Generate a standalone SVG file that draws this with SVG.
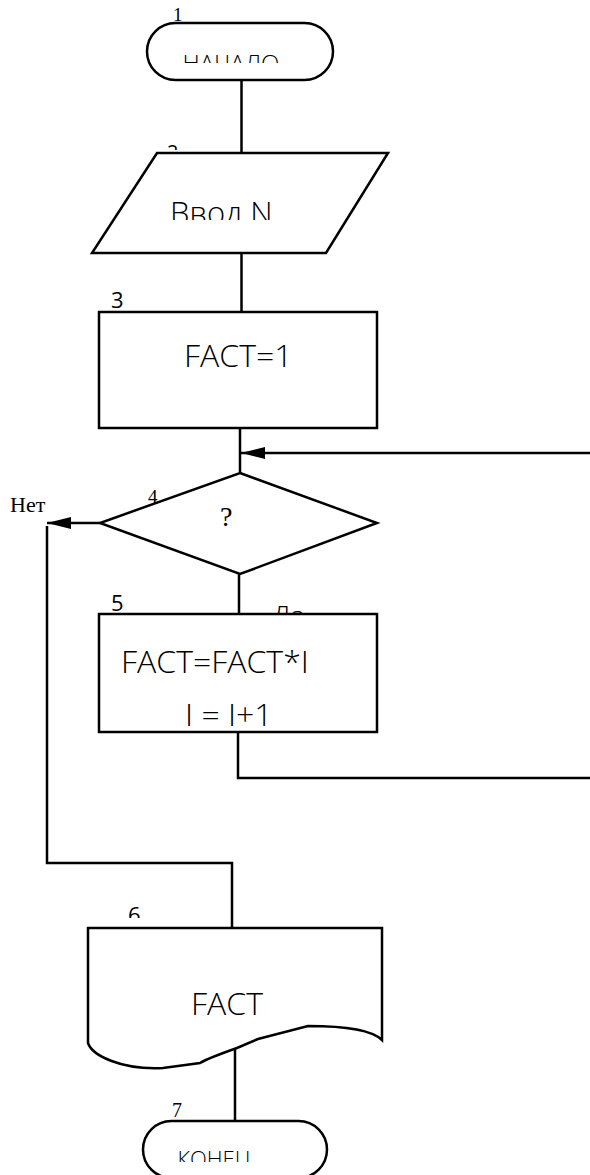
<svg xmlns="http://www.w3.org/2000/svg" width="590" height="1175" viewBox="0 0 590 1175">
<style>
.s{fill:#fff;stroke:#000;stroke-width:2.5}
.c{fill:none;stroke:#000;stroke-width:2.5}
.t{font-family:"Open Sans","Liberation Sans",sans-serif;font-weight:300;fill:#000}
.n{font-family:"Liberation Serif","Times New Roman",serif;fill:#000}
.ns{font-family:"Open Sans","Liberation Sans",sans-serif;fill:#000}
</style>
<defs>
<marker id="ah" markerWidth="24" markerHeight="12" refX="24" refY="6" orient="auto" markerUnits="userSpaceOnUse">
<path d="M0,0 L24,6 L0,12 z" fill="#000"/>
</marker>
<clipPath id="c1"><rect x="0" y="0" width="590" height="63"/></clipPath>
<clipPath id="c2"><rect x="0" y="0" width="590" height="150"/></clipPath>
<clipPath id="c2b"><rect x="0" y="0" width="590" height="220"/></clipPath>
<clipPath id="c5"><rect x="0" y="0" width="590" height="613"/></clipPath>
<clipPath id="c6"><rect x="0" y="0" width="590" height="918"/></clipPath>
<clipPath id="c7"><rect x="0" y="0" width="590" height="1162"/></clipPath>
</defs>
<g id="connectors">
<line class="c" x1="241.5" y1="80" x2="241.5" y2="153"/>
<line class="c" x1="241.5" y1="253" x2="241.5" y2="312"/>
<line class="c" x1="240" y1="428" x2="240" y2="473"/>
<line class="c" x1="590" y1="453" x2="241" y2="453" marker-end="url(#ah)"/>
<line class="c" x1="100" y1="523" x2="47" y2="523" marker-end="url(#ah)"/>
<polyline class="c" points="47,526 47,863 232,863 232,928"/>
<line class="c" x1="239" y1="574" x2="239" y2="614"/>
<polyline class="c" points="238,732 238,778 590,778"/>
<line class="c" x1="235" y1="1048" x2="235" y2="1121"/>
<text class="n" x="10" y="512" font-size="22">Нет</text>
<text class="t" x="272" y="626" font-size="28" clip-path="url(#c5)">Да</text>
</g>
<g id="n1">
<rect class="s" x="147" y="23" width="186" height="57" rx="28.5"/>
<text class="n" x="173" y="21" font-size="19">1</text>
<text class="t" x="231" y="72" font-size="24" text-anchor="middle" clip-path="url(#c1)">НАЧАЛО</text>
</g>
<g id="n2">
<polygon class="s" points="157,153 388,153 326,253 92,253"/>
<text class="ns" x="167" y="159" font-size="20" clip-path="url(#c2)">2</text>
<text class="t" x="170" y="224" font-size="31" clip-path="url(#c2b)">Ввод N</text>
</g>
<g id="n3">
<rect class="s" x="99" y="312" width="278" height="116"/>
<text class="ns" x="111" y="308" font-size="22">3</text>
<text class="t" x="184" y="367" font-size="32">FACT=1</text>
</g>
<g id="n4">
<polygon class="s" points="240,473 377,523 240,574 100,523"/>
<text class="n" x="148" y="503" font-size="19">4</text>
<text class="n" x="220" y="526" font-size="28">?</text>
</g>
<g id="n5">
<rect class="s" x="99" y="614" width="278" height="118"/>
<text class="ns" x="111" y="611" font-size="22">5</text>
<text class="t" x="121" y="673" font-size="32">FACT=FACT*I</text>
<text class="t" x="185" y="726" font-size="32">I = I+1</text>
</g>
<g id="n6">
<path class="s" d="M88,928 L382,928 L382,1040 C372,1030 345,1026 308,1026 L258,1039 L237,1048 C220,1054 205,1060 200,1063 L163,1068 C120,1070 92,1055 88,1043 Z"/>
<text class="ns" x="128" y="923" font-size="22" clip-path="url(#c6)">6</text>
<text class="t" x="191" y="1015" font-size="32">FACT</text>
</g>
<g id="n7">
<rect class="s" x="143" y="1121" width="184" height="57" rx="28.5"/>
<text class="n" x="172" y="1117" font-size="20">7</text>
<text class="t" x="214" y="1167" font-size="22" text-anchor="middle" clip-path="url(#c7)">КОНЕЦ</text>
</g>
</svg>
